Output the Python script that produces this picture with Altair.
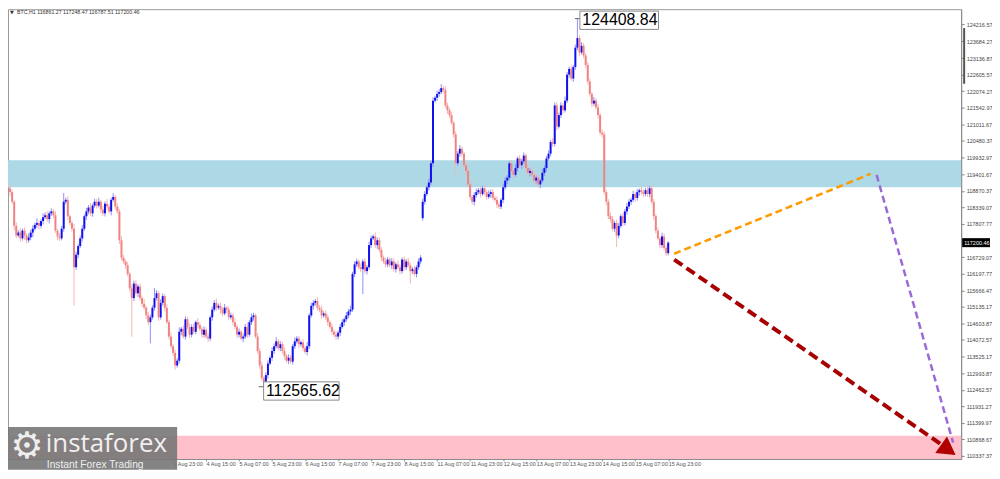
import altair as alt
import pandas as pd

# ---------------- data ----------------
closes = [
    118826, 118516, 117741, 117432, 117525, 117339, 117587, 117432, 117277, 117370,
    117525, 117649, 117772, 117834, 117741, 117896, 118020, 118082, 117958, 118144,
    118206, 118082, 117587, 117401, 117339, 117649, 118516, 118578, 118051, 117834,
    117649, 116410, 116812, 117091, 117339, 117649, 118051, 118206, 118330, 118144,
    118392, 118516, 118392, 118516, 118268, 118144, 118454, 118361, 118206, 118578,
    118671, 118361, 118206, 117277, 116719, 116595, 116471, 116193, 115728, 115418,
    115883, 115573, 115790, 115418, 115232, 115108, 114860, 114643, 114798, 115108,
    115418, 115573, 114798, 115263, 115480, 115108, 114643, 114179, 113869, 113652,
    113249, 113404, 114334, 114427, 114179, 114736, 114489, 114241, 114489, 114334,
    114643, 114551, 114427, 114241, 114396, 114179, 114117, 114798, 115046, 115263,
    115108, 115170, 115046, 114922, 115108, 115046, 114798, 114860, 114643, 114489,
    114241, 114334, 114117, 114179, 114489, 114241, 114643, 114798, 114860, 114179,
    113714, 113249, 112847, 112692, 112940, 113311, 113497, 113714, 113869, 114024,
    113807, 113931, 113714, 113559, 113404, 113497, 113373, 113869, 114024, 114117,
    113931, 113993, 113807, 113683, 113869, 114860, 115170, 115263, 115325, 115108,
    115046, 114860, 114922, 114798, 114643, 114489, 114334, 114241, 114179, 114303,
    114489, 114643, 114736, 114860, 114985, 115046, 116193, 116502, 116595, 116410,
    116347, 116595, 116285, 116410, 117122, 117339, 117401, 117122, 117277, 116967,
    116719, 116595, 116502, 116657, 116471, 116595, 116347, 116502, 116410, 116285,
    116657, 116410, 116595, 116471, 116285, 116347, 116193, 116410, 116595, 116719,
    118516, 118764, 118981, 119136, 119755, 121769, 121862, 121986, 122048, 122172,
    122110, 121614, 121459, 121304, 121056, 120685, 119755, 120065, 120220, 120065,
    119693, 119507, 119074, 118671, 118516, 118733, 118826, 118888, 118764, 118950,
    118826, 118671, 118764, 118826, 118640, 118578, 118423, 118361, 118578, 118981,
    119198, 119291, 119755, 119507, 119383, 119600, 119910, 119693, 119817, 120003,
    119600, 119445, 119507, 119383, 119198, 119291, 119074, 119198, 119445, 119600,
    119910, 120065, 120437, 120375, 121614, 120932, 121304, 121614, 121459, 121769,
    122605, 122791, 122481, 122853, 123473, 123783, 123318, 123535, 123225, 122915,
    122389, 121986, 121676, 121769, 121552, 121304, 120747, 120685, 118826, 118516,
    118051, 117958, 117649, 117834, 117432, 117741, 118051, 117834, 118206, 118361,
    118516, 118578, 118764, 118640, 118826, 118888, 118826, 118764, 118888, 118764,
    118950, 118516, 118051, 117587, 117339, 117122, 117401, 117029, 116861.27, 117200.46,
]
upper_wicks = [
    150, 90, 60, 120, 80, 140, 70, 100, 60, 130,
    90, 110, 70, 150, 80, 60, 120, 90, 140, 70,
    100, 80, 130, 60, 110, 90, 280, 70, 120, 60,
    80, 150, 100, 70, 90, 120, 60, 110, 80, 140,
    70, 100, 90, 130, 60, 110, 80, 150, 90, 70,
    120, 60, 100, 80, 140, 90, 70, 110, 60, 130,
    90, 120, 70, 100, 80, 150, 60, 110, 90, 80,
    330, 100, 70, 120, 90, 60, 110, 80, 130, 70,
    100, 80, 140, 60, 110, 90, 70, 120, 80, 100,
    60, 130, 90, 70, 110, 80, 120, 60, 100, 90,
    140, 70, 100, 80, 120, 60, 110, 90, 70, 130,
    80, 110, 60, 100, 90, 140, 70, 120, 80, 60,
    110, 90, 130, 70, 80, 100, 60, 120, 90, 140,
    70, 100, 80, 120, 60, 110, 90, 70, 130, 80,
    90, 60, 110, 80, 140, 70, 100, 90, 60, 120,
    80, 130, 70, 100, 90, 60, 110, 80, 120, 70,
    100, 90, 60, 110, 80, 130, 70, 100, 90, 60,
    120, 80, 100, 70, 110, 90, 60, 130, 80, 100,
    90, 70, 120, 80, 60, 110, 100, 70, 130, 90,
    60, 100, 80, 120, 90, 70, 110, 60, 100, 80,
    100, 90, 70, 120, 80, 110, 60, 100, 90, 130,
    80, 120, 90, 70, 110, 60, 100, 80, 120, 90,
    70, 100, 80, 130, 60, 90, 110, 70, 100, 80,
    90, 60, 120, 80, 100, 70, 110, 90, 60, 120,
    110, 80, 70, 100, 90, 120, 60, 110, 80, 100,
    60, 120, 90, 80, 110, 70, 100, 60, 130, 90,
    80, 100, 70, 120, 90, 110, 80, 100, 70, 130,
    90, 70, 110, 60, 100, 625.84, 80, 120, 90, 70,
    100, 90, 60, 120, 80, 110, 70, 100, 90, 80,
    80, 120, 100, 70, 110, 90, 60, 100, 80, 120,
    90, 70, 110, 80, 100, 60, 120, 90, 70, 100,
    80, 110, 90, 70, 100, 60, 120, 90, 80, 48.01,
]
lower_wicks = [
    120, 80, 140, 90, 60, 110, 70, 130, 100, 80,
    90, 150, 60, 100, 120, 80, 110, 70, 90, 140,
    80, 100, 70, 120, 90, 60, 100, 80, 110, 70,
    90, 1240, 80, 110, 60, 100, 70, 120, 90, 80,
    110, 70, 90, 60, 120, 80, 100, 90, 70, 130,
    60, 100, 80, 120, 90, 70, 110, 80, 100, 1240,
    90, 70, 120, 80, 100, 60, 110, 90, 680, 70,
    100, 80, 110, 70, 90, 120, 60, 100, 80, 110,
    130, 70, 90, 110, 60, 100, 80, 120, 90, 70,
    80, 110, 60, 100, 90, 70, 120, 80, 110, 60,
    100, 70, 120, 80, 60, 110, 90, 70, 100, 80,
    110, 90, 60, 120, 80, 100, 70, 90, 110, 60,
    90, 120, 80, 126, 80, 110, 60, 100, 90, 70,
    70, 100, 90, 120, 80, 110, 60, 100, 90, 70,
    120, 80, 100, 60, 110, 90, 70, 120, 80, 100,
    80, 110, 70, 90, 120, 60, 100, 80, 110, 90,
    100, 60, 120, 80, 90, 110, 70, 100, 80, 60,
    90, 800, 80, 110, 70, 100, 60, 90, 120, 80,
    110, 70, 100, 90, 60, 120, 80, 110, 70, 100,
    80, 120, 90, 60, 400, 100, 70, 110, 80, 90,
    80, 90, 70, 110, 80, 120, 60, 100, 90, 70,
    100, 80, 120, 90, 60, 110, 380, 80, 100, 90,
    80, 110, 70, 100, 90, 120, 80, 70, 110, 60,
    100, 90, 60, 120, 80, 70, 110, 90, 80, 100,
    70, 120, 90, 80, 110, 60, 100, 90, 120, 80,
    90, 80, 110, 70, 100, 90, 60, 120, 80, 100,
    110, 70, 90, 100, 80, 120, 60, 90, 110, 70,
    80, 100, 70, 110, 90, 80, 120, 60, 100, 90,
    100, 90, 120, 80, 70, 110, 90, 100, 80, 120,
    90, 110, 80, 100, 372, 90, 70, 110, 80, 100,
    80, 100, 70, 120, 90, 110, 80, 100, 70, 90,
    100, 80, 120, 90, 60, 110, 90, 80, 100, 73.76,
]
first_open = 118950
gap_bar = 200
gap_open = 117990

tick_bars = [79, 95, 111, 127, 143, 159, 175, 191, 207, 223,
             239, 255, 271, 287, 303, 319]
tick_labels = ["1 Aug 23:00", "4 Aug 15:00", "5 Aug 07:00", "5 Aug 23:00",
               "6 Aug 15:00", "7 Aug 07:00", "7 Aug 23:00", "8 Aug 15:00",
               "11 Aug 07:00", "11 Aug 23:00", "12 Aug 15:00", "13 Aug 07:00",
               "13 Aug 23:00", "14 Aug 15:00", "15 Aug 07:00", "15 Aug 23:00"]
price_ticks = [124216.57, 123684.27, 123136.87, 122605.57, 122074.27, 121542.97,
               121011.67, 120480.37, 119932.97, 119401.67, 118870.37, 118339.07,
               117807.77, 116729.07, 116197.77, 115666.47, 115135.17,
               114603.87, 114072.57, 113525.17, 112993.87, 112462.57, 111931.27,
               111399.97, 110868.67, 110337.37]

support_zone = [118980, 119850]
target_zone = [110244, 110990]

high_bar, high_value, high_text = 275, 124408.84, "124408.84"
low_bar, low_value, low_text = 123, 112565.62, "112565.62"
high_box = {"x": [276.2, 314.3], "y": [124061, 124650], "tx": 277.4, "ty": 124356}
low_box = {"x": [122.9, 159.5], "y": [112134, 112723], "tx": 124.0, "ty": 112429}

header_text = "BTC,H1  116861.27 117248.47 116787.51 117200.46"
last_price = 117200.46

orange_line = {"x": [321.9, 417.1], "y": [116843, 119414]}
purple_line = {"x": [420.0, 457.1], "y": [119383, 110770]}
red_line = {"x": [321.9, 451.4], "y": [116657, 110709]}
red_tip = {"x": [454.8], "y": [110536]}

X_DOMAIN = [-1, 461]
Y_DOMAIN = [110244, 124712]
W, H = 958, 452

# ---------------- tables ----------------
opens = [first_open] + closes[:-1]
opens[gap_bar] = gap_open
rows = []
for i, (o, c, u, l) in enumerate(zip(opens, closes, upper_wicks, lower_wicks)):
    rows.append(dict(idx=i, open=o, close=c,
                     high=max(o, c) + u, low=min(o, c) - l,
                     dir="up" if c >= o else "down"))
df = pd.DataFrame(rows)

labels_js = "[" + ",".join("'%s'" % t for t in tick_labels) + "]"
bars_js = "[" + ",".join(str(b) for b in tick_bars) + "]"

xs = alt.Scale(domain=X_DOMAIN, nice=False, zero=False)
ys = alt.Scale(domain=Y_DOMAIN, nice=False, zero=False)
x_axis = alt.Axis(values=tick_bars, labelExpr="%s[indexof(%s, datum.value)]" % (labels_js, bars_js),
                  labelAlign="left", labelBaseline="top", labelFontSize=5.5,
                  labelFont="Liberation Sans", labelColor="#555555", tickSize=2,
                  tickColor="#888888", domainColor="#888888", labelPadding=1,
                  grid=False, title=None, labelOverlap=False, labelFlush=False)
y_axis = alt.Axis(values=price_ticks, format=".2f", orient="right", labelFontSize=5.5,
                  labelFont="Liberation Sans", labelColor="#444444", tickSize=3,
                  tickColor="#888888", domainColor="#888888", labelPadding=2,
                  grid=False, title=None, labelOverlap=False, labelFlush=False)


def X(f):
    return alt.X(f, type="quantitative", scale=xs, axis=x_axis)


def Y(f):
    return alt.Y(f, type="quantitative", scale=ys, axis=y_axis)


zones = pd.DataFrame({"lo": [support_zone[0], target_zone[0]],
                      "hi": [support_zone[1], target_zone[1]],
                      "z": ["support", "target"]})

zone_blue = alt.Chart(zones).transform_filter("datum.z == 'support'").mark_rect(
    color="#add8e6").encode(x=alt.value(0), x2=alt.value(W), y=Y("lo"), y2="hi")
zone_pink = alt.Chart(zones).transform_filter("datum.z == 'target'").mark_rect(
    color="#ffc0cb").encode(x=alt.value(0), x2=alt.value(W), y=Y("lo"), y2="hi")

base = alt.Chart(df)
wick_up = base.transform_filter("datum.dir == 'up'").mark_rule(
    color="#8f8fff", strokeWidth=1).encode(x=X("idx"), y=Y("low"), y2="high")
wick_dn = base.transform_filter("datum.dir == 'down'").mark_rule(
    color="#f6b3b3", strokeWidth=1).encode(x=X("idx"), y=Y("low"), y2="high")
body_up = base.transform_filter("datum.dir == 'up'").mark_rule(
    color="#1010ee", strokeWidth=2).encode(x=X("idx"), y=Y("open"), y2="close")
body_dn = base.transform_filter("datum.dir == 'down'").mark_rule(
    color="#f08282", strokeWidth=2).encode(x=X("idx"), y=Y("open"), y2="close")


def seg(d, color, width, dash):
    t = pd.DataFrame({"x": [d["x"][0]], "x2": [d["x"][1]], "y": [d["y"][0]], "y2": [d["y"][1]]})
    return alt.Chart(t).mark_rule(color=color, strokeWidth=width, strokeDash=dash,
                                  strokeCap="butt").encode(
        x=X("x"), x2="x2", y=Y("y"), y2="y2")


orange = seg(orange_line, "#ff9a00", 2.5, [7, 4])
purple = seg(purple_line, "#9a6bd6", 2.5, [7, 4])
red = seg(red_line, "#a80000", 4, [10, 5])
tip = alt.Chart(pd.DataFrame(red_tip)).mark_point(
    shape="triangle-right", angle=35, size=420, filled=True, color="#b00000",
    opacity=1).encode(x=X("x"), y=Y("y"))

# extreme labels
boxes = pd.DataFrame({"x": [high_box["x"][0], low_box["x"][0]],
                      "x2": [high_box["x"][1], low_box["x"][1]],
                      "y": [high_box["y"][0], low_box["y"][0]],
                      "y2": [high_box["y"][1], low_box["y"][1]],
                      "tx": [high_box["tx"], low_box["tx"]],
                      "ty": [high_box["ty"], low_box["ty"]],
                      "t": [high_text, low_text],
                      "mx": [high_bar - 1.2, low_bar - 2.5],
                      "mx2": [high_bar + 1.2, low_bar - 0.1],
                      "my": [high_value, low_value]})
box_rect = alt.Chart(boxes).mark_rect(fill="white", stroke="#8a8a8a", strokeWidth=1).encode(
    x=X("x"), x2="x2", y=Y("y"), y2="y2")
box_text = alt.Chart(boxes).mark_text(align="left", baseline="middle", fontSize=16,
                                      font="Liberation Sans", color="black").encode(
    x=X("tx"), y=Y("ty"), text="t:N")
box_mark = alt.Chart(boxes).mark_rule(color="#666666", strokeWidth=1).encode(
    x=X("mx"), x2="mx2", y=Y("my"))

# current price label on the axis
cur = pd.DataFrame({"p": [last_price], "lo": [last_price - 145], "hi": [last_price + 145],
                    "t": ["117200.46"]})
cur_box = alt.Chart(cur).mark_rect(color="black").encode(
    x=alt.value(W + 1), x2=alt.value(W + 29), y=Y("lo"), y2="hi")
cur_txt = alt.Chart(cur).mark_text(align="left", baseline="middle", fontSize=5.5,
                                   font="Liberation Sans", color="white").encode(
    x=alt.value(W + 3), y=Y("p"), text="t:N")

one = pd.DataFrame({"a": [0]})
scroll = alt.Chart(one).mark_rect(color="#555555").encode(
    x=alt.value(W + 2), x2=alt.value(W + 4), y=alt.value(19), y2=alt.value(75))
header = alt.Chart(one).mark_text(align="left", baseline="middle", fontSize=5.3,
                                  font="Liberation Sans", color="#333333").encode(
    x=alt.value(9), y=alt.value(3), text=alt.value(header_text))
header_tri = alt.Chart(one).mark_text(align="left", baseline="middle", fontSize=5,
                                      font="DejaVu Sans", color="#333333").encode(
    x=alt.value(2), y=alt.value(3), text=alt.value("▼"))

# logo
logo_box = alt.Chart(one).mark_rect(color="#777777", opacity=0.9).encode(
    x=alt.value(0), x2=alt.value(170), y=alt.value(420), y2=alt.value(463))
logo_icon = alt.Chart(one).mark_text(align="center", baseline="middle", fontSize=37,
                                     font="DejaVu Sans", color="#eeeeee").encode(
    x=alt.value(19), y=alt.value(440), text=alt.value("⚙"))
logo_name = alt.Chart(one).mark_text(align="left", baseline="alphabetic", fontSize=26,
                                     font="Open Sans", color="#f0f0f0").encode(
    x=alt.value(38), y=alt.value(445), text=alt.value("instaforex"))
logo_tag = alt.Chart(one).mark_text(align="left", baseline="alphabetic", fontSize=10.3,
                                    font="Liberation Sans", color="#eeeeee").encode(
    x=alt.value(39), y=alt.value(461), text=alt.value("Instant Forex Trading"))

chart = alt.layer(
    zone_blue, zone_pink, wick_up, wick_dn, body_up, body_dn,
    orange, purple, red, tip, box_mark, box_rect, box_text,
    cur_box, cur_txt, scroll, header_tri, header,
    logo_box, logo_icon, logo_name, logo_tag,
).properties(width=W, height=H, padding=0, background="white").configure_view(
    stroke="#9a9a9a", strokeWidth=1)

chart.save("out.html", embed_options={"renderer": "svg", "actions": False})
